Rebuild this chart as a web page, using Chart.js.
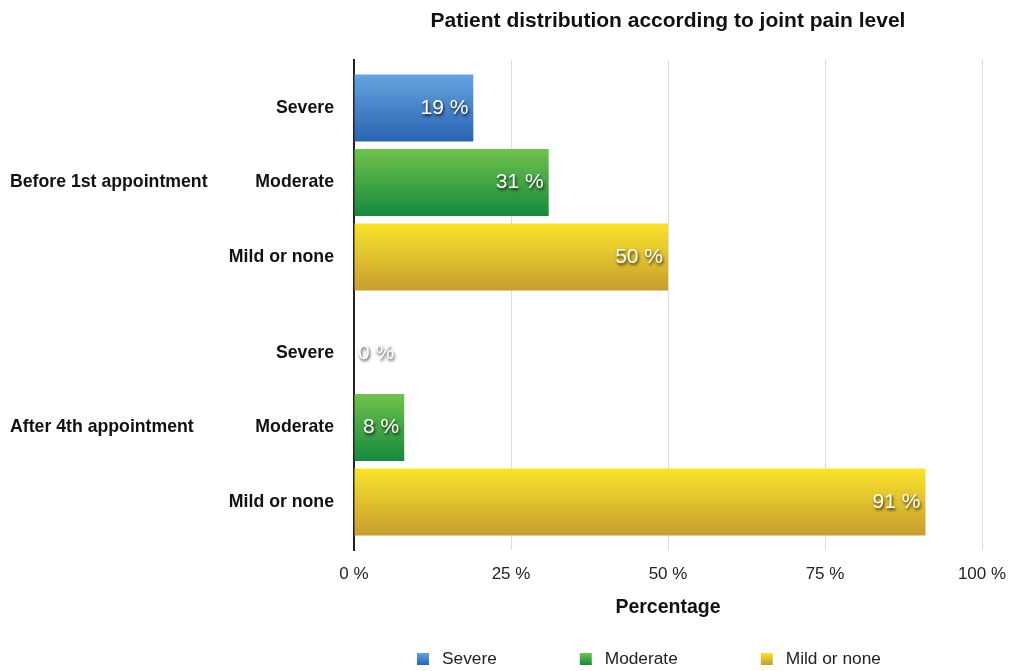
<!DOCTYPE html>
<html>
<head>
<meta charset="utf-8">
<title>Patient distribution according to joint pain level</title>
<script src="https://cdn.jsdelivr.net/npm/chart.js@4"></script>
<style>
  body { margin: 0; background: #fff; }
  #wrap { width: 1009px; height: 671px; }
</style>
</head>
<body>
<div id="wrap"><canvas id="painChart"></canvas></div>
<script>
const groups = ["Before 1st appointment", "After 4th appointment"];
const levels = ["Severe", "Moderate", "Mild or none"];
const severe = [19, 0];
const moderate = [31, 8];
const mild = [50, 91];
const xTicks = [0, 25, 50, 75, 100];

const font = "'Liberation Sans', Arial, Helvetica, sans-serif";
// top / bottom colour of each bar gradient
const gradients = [
  ["#65a5e0", "#2a62b0"],
  ["#70c24c", "#15893c"],
  ["#fae32c", "#c69e2e"],
];

// vertical gradient on every bar
const barGradient = {
  id: "barGradient",
  beforeDatasetsDraw(chart) {
    const ctx = chart.ctx;
    chart.data.datasets.forEach((ds, i) => {
      chart.getDatasetMeta(i).data.forEach((bar) => {
        const top = bar.y - bar.height / 2;
        const g = ctx.createLinearGradient(0, top, 0, top + bar.height);
        g.addColorStop(0, gradients[i][0]);
        g.addColorStop(1, gradients[i][1]);
        bar.options = Object.assign({}, bar.options, { backgroundColor: g });
      });
    });
  },
};

// level names beside the axis and the values inside the bars
const barLabels = {
  id: "barLabels",
  afterDatasetsDraw(chart) {
    const ctx = chart.ctx;
    const left = chart.chartArea.left;
    ctx.save();
    ctx.textBaseline = "middle";
    chart.data.datasets.forEach((ds, i) => {
      chart.getDatasetMeta(i).data.forEach((bar, j) => {
        ctx.shadowColor = "transparent";
        ctx.font = "bold 17.7px " + font;
        ctx.fillStyle = "#111";
        ctx.textAlign = "right";
        ctx.fillText(ds.label, left - 20, bar.y);

        const text = ds.data[j] + " %";
        ctx.font = "21px " + font;
        const w = ctx.measureText(text).width;
        ctx.shadowColor = "rgba(0,0,0,0.8)";
        ctx.shadowOffsetX = 1;
        ctx.shadowOffsetY = 2;
        ctx.shadowBlur = 3;
        ctx.fillStyle = "#fff";
        if (bar.x - bar.base > w + 10) {
          ctx.textAlign = "right";
          ctx.fillText(text, bar.x - 5, bar.y);
        } else {
          ctx.textAlign = "left";
          ctx.fillText(text, bar.base + 4, bar.y);
        }
      });
    });
    ctx.restore();
  },
};

// title over the plot and the legend at the bottom
const titleAndLegend = {
  id: "titleAndLegend",
  afterDraw(chart) {
    const ctx = chart.ctx;
    const area = chart.chartArea;
    ctx.save();
    ctx.textBaseline = "middle";
    ctx.fillStyle = "#111";
    ctx.font = "bold 21px " + font;
    ctx.textAlign = "center";
    ctx.fillText("Patient distribution according to joint pain level", (area.left + area.right) / 2, 21);

    ctx.font = "17.3px " + font;
    ctx.textAlign = "left";
    let x = area.left + 63;
    const y = 659;
    chart.data.datasets.forEach((ds, i) => {
      const g = ctx.createLinearGradient(0, y - 6, 0, y + 6);
      g.addColorStop(0, gradients[i][0]);
      g.addColorStop(1, gradients[i][1]);
      ctx.fillStyle = g;
      ctx.fillRect(x, y - 6, 12, 12);
      ctx.fillStyle = "#222";
      ctx.fillText(ds.label, x + 25, y);
      x += 25 + ctx.measureText(ds.label).width + 83;
    });
    ctx.restore();
  },
};

new Chart(document.getElementById("painChart"), {
  type: "bar",
  data: {
    labels: groups,
    datasets: [
      { label: levels[0], data: severe },
      { label: levels[1], data: moderate },
      { label: levels[2], data: mild },
    ],
  },
  options: {
    indexAxis: "y",
    responsive: true,
    maintainAspectRatio: false,
    animation: false,
    devicePixelRatio: 1,
    categoryPercentage: 0.912,
    barPercentage: 0.9,
    layout: { padding: { top: 60, left: 10, right: 0, bottom: 0 } },
    plugins: {
      legend: { display: false },
      title: { display: false },
      tooltip: { enabled: false },
    },
    scales: {
      x: {
        min: 0,
        max: 100,
        afterBuildTicks: (s) => { s.ticks = xTicks.map((v) => ({ value: v })); },
        afterFit: (s) => {
          s.height = 121;
          s.paddingLeft = 0;
          s.paddingRight = 27;
        },
        grid: { color: "#dcdcdc", drawTicks: false },
        border: { display: false },
        ticks: {
          padding: 14,
          color: "#222",
          font: { family: font, size: 17 },
          callback: (v) => v + " %",
        },
        title: {
          display: true,
          text: "Percentage",
          color: "#111",
          font: { family: font, size: 19.5, weight: "bold" },
          padding: { top: 0, bottom: 52 },
        },
      },
      y: {
        afterFit: (s) => { s.width = 344; },
        grid: { display: false },
        border: { display: true, color: "#222", width: 2 },
        ticks: {
          crossAlign: "far",
          color: "#111",
          font: { family: font, size: 17.7, weight: "bold" },
        },
      },
    },
  },
  plugins: [barGradient, barLabels, titleAndLegend],
});
</script>
</body>
</html>
